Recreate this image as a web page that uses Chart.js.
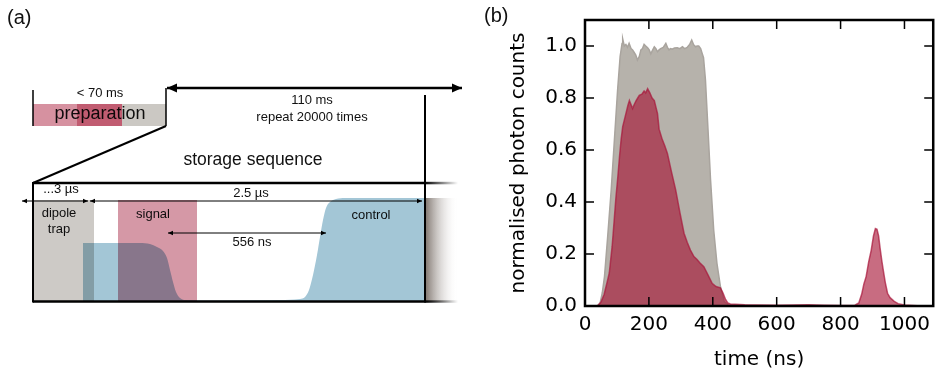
<!DOCTYPE html>
<html>
<head>
<meta charset="utf-8">
<script src="https://cdn.jsdelivr.net/npm/chart.js@4.4.0/dist/chart.umd.min.js"></script>
<style>
  html, body { margin: 0; padding: 0; background: #fff; }
  #wrap { position: relative; width: 937px; height: 376px; overflow: hidden; }
  canvas { position: absolute; top: 0; }
  #schematic { left: 0; }
  #counts { left: 480px; }
</style>
</head>
<body>
<div id="wrap">
  <canvas id="schematic" width="470" height="376"></canvas>
  <canvas id="counts" width="457" height="376"></canvas>
</div>
<script>
// ---- panel (b): photon counts ----
const grayTime = [0, 30, 40, 47, 54, 61, 71, 82, 92, 102, 110, 116, 118, 123, 128, 133, 138, 144, 149, 154,
  159, 164, 170, 175, 180, 185, 190, 196, 201, 206, 212, 217, 222, 227, 232, 237, 245, 253, 258, 263,
  268, 273, 280, 289, 297, 305, 312, 320, 327, 334, 340, 346, 351, 356, 362, 367, 371, 377, 385, 393,
  403, 413, 424, 436, 450, 470, 500];
const grayCounts = [0, 0, 0.002, 0.01, 0.05, 0.113, 0.267, 0.446, 0.638, 0.83, 0.96, 1.01, 1.027, 1.0, 1.006, 0.995, 1.01, 0.99, 0.985, 0.975,
  0.965, 0.946, 0.96, 0.985, 0.99, 1.006, 1.0, 0.993, 0.985, 0.97, 0.985, 0.997, 0.99, 0.978, 0.985, 0.99, 0.995, 1.01, 0.995, 0.985,
  0.99, 0.988, 0.992, 0.993, 0.99, 0.997, 0.99, 0.995, 1.005, 1.023, 1.005, 0.997, 1.0, 1.0, 0.99, 0.97, 0.955, 0.87, 0.68, 0.485,
  0.29, 0.164, 0.074, 0.017, 0.003, 0, 0];

const redTime = [0, 30, 40, 50, 60, 70, 76, 85, 92, 97, 103, 108, 113, 118, 128, 134, 139, 144, 149, 154,
  160, 165, 170, 178, 185, 190, 196, 203, 210, 217, 222, 227, 232, 242, 250, 258, 270, 284, 297, 310,
  320, 330, 341, 350, 360, 372, 385, 398, 410, 424, 432, 440, 447, 455, 470, 500, 550, 600, 650, 700,
  750, 800, 845, 857, 866, 873, 880, 888, 896, 903, 909, 914, 919, 924, 929, 934, 940, 947, 955, 968,
  980, 1000, 1040, 1090];
const redCounts = [0, 0, 0.002, 0.015, 0.045, 0.095, 0.127, 0.23, 0.34, 0.42, 0.5, 0.574, 0.64, 0.69, 0.74, 0.77, 0.79, 0.775, 0.76, 0.775,
  0.79, 0.8, 0.81, 0.815, 0.827, 0.82, 0.836, 0.82, 0.8, 0.79, 0.765, 0.74, 0.68, 0.64, 0.615, 0.587, 0.52, 0.446, 0.36, 0.28,
  0.245, 0.215, 0.19, 0.18, 0.165, 0.151, 0.12, 0.087, 0.075, 0.07, 0.05, 0.025, 0.012, 0.008, 0.007, 0.005, 0.004, 0.003, 0.004, 0.005,
  0.003, 0.002, 0.003, 0.012, 0.045, 0.085, 0.113, 0.17, 0.215, 0.27, 0.298, 0.295, 0.27, 0.22, 0.175, 0.135, 0.09, 0.049, 0.032, 0.018,
  0.009, 0.004, 0.001, 0];

const xTicks = [0, 200, 400, 600, 800, 1000];
const yTicks = [0, 0.2, 0.4, 0.6, 0.8, 1.0];

// ---- panel (a): schematic, in panel units ----
const prepEdges = [33, 77, 122, 166];
const prepBand = [104, 126];
const trapBlock = [32, 94];
const signalBlock = [118, 197];
const pulseBand = [200, 302];
const controlX = [83, 83, 140, 150, 157, 163, 167, 170, 173, 176, 180, 186, 220, 280, 300, 305, 309, 313, 317, 320, 323, 326, 330, 336, 345, 425];
const controlY = [302, 243, 243, 244, 247, 251, 258, 270, 282, 292, 298, 300, 300.5, 300, 299, 297, 290, 275, 255, 237, 220, 208, 202, 199, 198, 198];

const frameLines = [
  [[33, 183], [425, 183], 2.5],
  [[33, 301.5], [425, 301.5], 2.5],
  [[33, 182], [33, 302.5], 2],
  [[425, 95], [425, 302.5], 2],
  [[166, 126], [33, 183], 2],
  [[33, 90], [33, 126], 1.5],
  [[166, 88], [166, 126], 1.5]
];
// double arrows: start, end, width, head length
const arrows = [
  [[167, 88], [462, 88], 2.5, 10],
  [[22, 201], [88, 201], 1, 5],
  [[90, 201], [422, 201], 1, 5],
  [[168, 233], [326, 233], 1, 5]
];
const notes = [
  ['< 70 ms', 100, 93, 13],
  ['preparation', 100, 114, 18],
  ['110 ms', 312, 100, 13],
  ['repeat 20000 times', 312, 117, 13],
  ['storage sequence', 253, 160, 17.5],
  ['...3 µs', 61, 189, 13],
  ['2.5 µs', 251, 193, 13],
  ['dipole', 59, 213, 13],
  ['trap', 59, 229, 13],
  ['signal', 153, 214, 13],
  ['556 ns', 252, 242, 13],
  ['control', 371, 215, 13]
];

const SANS = '"Liberation Sans", Arial, sans-serif';
const DEJA = '"DejaVu Sans", sans-serif';

//UTILS

function block(x1, x2, top, bottom, color) {
  return {
    data: [{x: x1, y: top}, {x: x2, y: top}],
    fill: {value: bottom},
    backgroundColor: color,
    borderColor: 'transparent',
    borderWidth: 0
  };
}

function segment(a, b, w) {
  return {
    data: [{x: a[0], y: a[1]}, {x: b[0], y: b[1]}],
    fill: false,
    borderColor: '#000',
    borderWidth: w
  };
}

function head(ctx, x, y, dir, len) {
  ctx.beginPath();
  ctx.moveTo(x, y);
  ctx.lineTo(x - dir * len, y - len * 0.45);
  ctx.lineTo(x - dir * len, y + len * 0.45);
  ctx.closePath();
  ctx.fill();
}

//SCHEMATIC

let schematicSets = [];
schematicSets.push(block(prepEdges[0], prepEdges[1], prepBand[0], prepBand[1], '#d691a0'));
schematicSets.push(block(prepEdges[1], prepEdges[2], prepBand[0], prepBand[1], '#c15c71'));
schematicSets.push(block(prepEdges[2], prepEdges[3], prepBand[0], prepBand[1], '#cbc8c3'));
schematicSets.push(block(trapBlock[0], trapBlock[1], pulseBand[0], pulseBand[1], '#cdcac6'));
schematicSets.push(block(signalBlock[0], signalBlock[1], pulseBand[0], pulseBand[1], '#d598a6'));
schematicSets.push({
  data: controlX.map((x, i) => ({x: x, y: controlY[i]})),
  fill: {value: pulseBand[1]},
  backgroundColor: '#a3c6d6',
  borderColor: 'transparent',
  borderWidth: 0,
  cubicInterpolationMode: 'monotone'
});
frameLines.forEach(l => schematicSets.push(segment(l[0], l[1], l[2])));
arrows.forEach(a => schematicSets.push(segment(a[0], a[1], a[2])));

const schematicDraw = {
  id: 'schematicDraw',
  beforeDatasetsDraw(chart) {
    const ctx = chart.ctx;
    const x = chart.scales.x, y = chart.scales.y;
    ctx.save();
    // fading continuation on the right
    let g = ctx.createLinearGradient(x.getPixelForValue(425), 0, x.getPixelForValue(458), 0);
    g.addColorStop(0, 'rgba(125,115,108,1)');
    g.addColorStop(1, 'rgba(255,255,255,0)');
    ctx.fillStyle = g;
    ctx.fillRect(x.getPixelForValue(425), y.getPixelForValue(198), x.getPixelForValue(458) - x.getPixelForValue(425), y.getPixelForValue(302) - y.getPixelForValue(198));
    let lg = ctx.createLinearGradient(x.getPixelForValue(425), 0, x.getPixelForValue(458), 0);
    lg.addColorStop(0, 'rgba(0,0,0,1)');
    lg.addColorStop(1, 'rgba(0,0,0,0)');
    ctx.fillStyle = lg;
    ctx.fillRect(x.getPixelForValue(425), y.getPixelForValue(181.8), 33, 2.5);
    ctx.fillRect(x.getPixelForValue(425), y.getPixelForValue(300.3), 33, 2.5);

    ctx.fillStyle = '#111';
    ctx.textBaseline = 'middle';
    ctx.textAlign = 'left';
    ctx.font = '20px ' + SANS;
    ctx.fillText('(a)', 7, 18);
    ctx.textAlign = 'center';
    notes.forEach(n => {
      ctx.font = n[3] + 'px ' + SANS;
      ctx.fillText(n[0], x.getPixelForValue(n[1]), y.getPixelForValue(n[2]));
    });
    ctx.restore();
    ctx.globalCompositeOperation = 'multiply';
  },
  afterDatasetsDraw(chart) {
    const ctx = chart.ctx;
    const x = chart.scales.x, y = chart.scales.y;
    ctx.globalCompositeOperation = 'source-over';
    ctx.save();
    ctx.fillStyle = '#000';
    arrows.forEach(a => {
      head(ctx, x.getPixelForValue(a[0][0]), y.getPixelForValue(a[0][1]), -1, a[3]);
      head(ctx, x.getPixelForValue(a[1][0]), y.getPixelForValue(a[1][1]), 1, a[3]);
    });
    ctx.restore();
  }
};

new Chart(document.getElementById('schematic'), {
  type: 'line',
  data: {datasets: schematicSets},
  options: {
    responsive: false,
    animation: false,
    layout: {padding: 0},
    elements: {point: {radius: 0}, line: {tension: 0}},
    datasets: {line: {clip: false}},
    plugins: {legend: {display: false}, tooltip: {enabled: false}},
    scales: {
      x: {type: 'linear', min: 0, max: 470, display: false},
      y: {type: 'linear', min: 0, max: 376, reverse: true, display: false}
    }
  },
  plugins: [schematicDraw]
});

//COUNTS CHART

const frame = {
  id: 'frame',
  afterDraw(chart) {
    const {ctx, chartArea: a} = chart;
    const x = chart.scales.x, y = chart.scales.y;
    ctx.save();
    ctx.strokeStyle = '#000';
    ctx.lineWidth = 1.5;
    ctx.beginPath();
    xTicks.forEach(v => {
      let px = x.getPixelForValue(v);
      ctx.moveTo(px, a.bottom); ctx.lineTo(px, a.bottom - 9);
      ctx.moveTo(px, a.top); ctx.lineTo(px, a.top + 9);
    });
    yTicks.forEach(v => {
      let py = y.getPixelForValue(v);
      ctx.moveTo(a.left, py); ctx.lineTo(a.left + 9, py);
      ctx.moveTo(a.right, py); ctx.lineTo(a.right - 9, py);
    });
    ctx.stroke();
    ctx.lineWidth = 2.5;
    ctx.strokeRect(a.left, a.top, a.right - a.left, a.bottom - a.top);
    ctx.fillStyle = '#111';
    ctx.font = '20px ' + SANS;
    ctx.textBaseline = 'middle';
    ctx.fillText('(b)', 4, 16);
    ctx.restore();
  }
};

new Chart(document.getElementById('counts'), {
  type: 'line',
  data: {
    datasets: [
      {
        label: 'retrieved',
        data: redTime.map((t, i) => ({x: t, y: redCounts[i]})),
        borderColor: 'rgba(168,22,58,0.7)',
        backgroundColor: 'rgba(163,10,45,0.6)',
        borderWidth: 1.5,
        fill: 'origin'
      },
      {
        label: 'reference',
        data: grayTime.map((t, i) => ({x: t, y: grayCounts[i]})),
        borderColor: '#a9a49e',
        backgroundColor: '#b6b2ab',
        borderWidth: 1.5,
        fill: 'origin'
      }
    ]
  },
  options: {
    responsive: false,
    animation: false,
    layout: {padding: {left: 0, right: 1, top: 20, bottom: 0}},
    elements: {point: {radius: 0}, line: {tension: 0}},
    plugins: {legend: {display: false}, tooltip: {enabled: false}},
    scales: {
      x: {
        type: 'linear', min: 0, max: 1090,
        afterBuildTicks: s => { s.ticks = xTicks.map(v => ({value: v})); },
        afterFit: s => { s.height = 70; },
        grid: {display: false, drawTicks: false},
        border: {display: false},
        ticks: {padding: 7, color: '#000', font: {family: DEJA, size: 20}, maxRotation: 0, callback: v => String(v)},
        title: {display: true, text: 'time (ns)', color: '#000', font: {family: DEJA, size: 20}, padding: {top: 0, bottom: 4}}
      },
      y: {
        type: 'linear', min: 0, max: 1.1,
        afterBuildTicks: s => { s.ticks = yTicks.map(v => ({value: v})); },
        afterFit: s => { s.width = 105; },
        grid: {display: false, drawTicks: false},
        border: {display: false},
        ticks: {padding: 8, color: '#000', font: {family: DEJA, size: 20}, callback: v => v.toFixed(1)},
        title: {display: true, text: 'normalised photon counts', color: '#000', font: {family: DEJA, size: 20}, padding: {top: 27, bottom: 0}}
      }
    }
  },
  plugins: [frame]
});
</script>
</body>
</html>
